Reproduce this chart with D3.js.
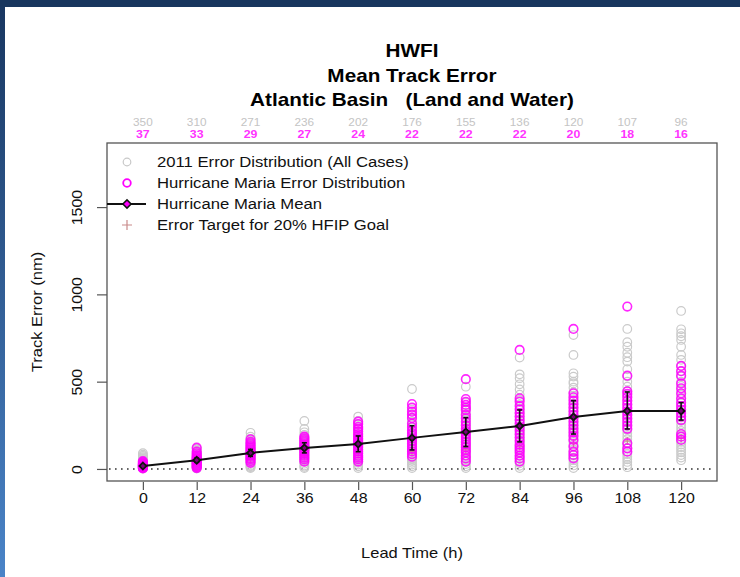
<!DOCTYPE html>
<html>
<head>
<meta charset="utf-8">
<script src="https://cdn.jsdelivr.net/npm/d3@7"></script>
<style>
  body { margin: 0; background: #fff; }
  svg { display: block; font-family: "Liberation Sans", Arial, sans-serif; }
</style>
</head>
<body>
<div id="chart"></div>
<script>
// lead times and counts
const leadTimes = [0, 12, 24, 36, 48, 60, 72, 84, 96, 108, 120];
const countAll = [350, 310, 271, 236, 202, 176, 155, 136, 120, 107, 96];
const countMaria = [37, 33, 29, 27, 24, 22, 22, 22, 20, 18, 16];

// 2011 error distribution (all cases), nm
const grey0 = [2, 5, 8, 10, 12, 15, 18, 20, 22, 25, 28, 30, 33, 36, 40, 44, 48, 52, 57, 62, 68, 75, 82, 90];
const grey12 = [3, 8, 12, 16, 20, 24, 28, 32, 36, 40, 44, 48, 52, 56, 60, 65, 70, 75, 80, 86, 92, 98, 105, 112, 118];
const grey24 = [5, 10, 15, 20, 28, 35, 42, 50, 58, 66, 74, 82, 90, 98, 106, 114, 122, 130, 140, 150, 160, 172, 185, 207];
const grey36 = [5, 12, 20, 30, 40, 50, 60, 70, 80, 90, 100, 110, 120, 130, 140, 150, 160, 170, 182, 195, 210, 229, 275];
const grey48 = [5, 15, 25, 35, 45, 55, 65, 75, 85, 95, 105, 115, 125, 135, 145, 155, 165, 175, 185, 198, 212, 229, 245, 257, 275, 300];
const grey60 = [5, 15, 25, 35, 45, 55, 65, 75, 85, 95, 105, 115, 125, 135, 145, 158, 170, 182, 195, 208, 222, 238, 255, 272, 290, 315, 340, 458];
const grey72 = [5, 15, 28, 40, 52, 65, 78, 90, 102, 115, 128, 140, 152, 165, 178, 190, 204, 218, 232, 248, 265, 282, 300, 322, 345, 380, 471];
const grey84 = [5, 18, 32, 45, 60, 75, 90, 105, 120, 135, 150, 165, 180, 196, 212, 228, 245, 262, 280, 300, 320, 345, 370, 395, 425, 455, 485, 520, 542, 638];
const grey96 = [5, 20, 35, 50, 65, 80, 95, 110, 125, 140, 155, 170, 186, 202, 218, 235, 252, 270, 290, 310, 330, 352, 375, 400, 420, 440, 465, 490, 500, 529, 548, 653, 767];
const grey108 = [10, 23, 40, 55, 70, 85, 100, 118, 135, 152, 170, 188, 206, 225, 245, 265, 285, 305, 325, 345, 368, 392, 418, 445, 471, 500, 530, 571, 615, 640, 666, 700, 726, 802];
const grey120 = [50, 65, 80, 95, 110, 125, 140, 155, 170, 185, 200, 218, 236, 255, 275, 295, 315, 335, 355, 378, 400, 425, 450, 475, 500, 530, 560, 590, 625, 653, 700, 739, 760, 777, 800, 905];

// Hurricane Maria error distribution, nm
const mag0 = [3, 6, 9, 11, 13, 15, 17, 19, 21, 23, 25, 28, 31, 35, 40, 45];
const mag12 = [5, 10, 15, 20, 25, 30, 35, 40, 45, 50, 55, 60, 65, 72, 80, 90, 100, 122];
const mag24 = [35, 45, 55, 62, 70, 78, 85, 92, 100, 108, 116, 125, 135, 145, 155, 170];
const mag36 = [42, 55, 65, 75, 85, 95, 105, 112, 120, 128, 136, 145, 155, 165, 175, 185];
const mag48 = [42, 55, 65, 75, 88, 100, 112, 125, 135, 145, 155, 165, 175, 188, 200, 215, 229, 240, 257, 271];
const mag60 = [70, 85, 100, 115, 130, 145, 160, 175, 190, 205, 220, 240, 260, 292, 310, 328, 351, 372];
const mag72 = [42, 60, 76, 95, 109, 125, 140, 155, 170, 185, 200, 215, 230, 250, 270, 290, 310, 338, 352, 367, 385, 400, 514];
const mag84 = [42, 60, 76, 95, 110, 125, 139, 160, 180, 200, 220, 240, 260, 280, 300, 320, 340, 360, 386, 405, 682];
const mag96 = [61, 80, 99, 130, 166, 190, 210, 230, 250, 270, 290, 310, 330, 350, 370, 390, 410, 433, 802];
const mag108 = [99, 118, 147, 230, 250, 270, 290, 310, 330, 350, 370, 390, 410, 430, 445, 534, 930];
const mag120 = [166, 185, 200, 280, 300, 320, 340, 360, 380, 405, 433, 462, 490, 534, 560, 590];

// Maria mean and error bars
const meanErr = [17, 50, 92, 120, 143, 178, 212, 246, 298, 332, 332];
const errLow = [12, 38, 72, 92, 99, 109, 128, 155, 200, 229, 280];
const errHigh = [22, 62, 112, 150, 189, 248, 294, 338, 391, 441, 380];

// 20% HFIP goal target
const target = [10, 35, 55, 75, 95, 100, 110, 130, 147, 160, 176];

const yTicks = [0, 500, 1000, 1500];
const legendLabels = [
    "2011 Error Distribution (All Cases)",
    "Hurricane Maria Error Distribution",
    "Hurricane Maria Mean",
    "Error Target for 20% HFIP Goal"
];

const greyDist = [grey0, grey12, grey24, grey36, grey48, grey60, grey72, grey84, grey96, grey108, grey120];
const magDist = [mag0, mag12, mag24, mag36, mag48, mag60, mag72, mag84, mag96, mag108, mag120];

const width = 740, height = 577;
const box = { left: 107, right: 717, top: 143, bottom: 481 };

// the original text is set a little wider than Liberation Sans
function stretch(sel, k = 1.1) {
    sel.each(function() {
        const len = this.getComputedTextLength();
        d3.select(this)
            .attr("textLength", len * k)
            .attr("lengthAdjust", "spacingAndGlyphs");
    });
}

const svg = d3.select("#chart").append("svg")
    .attr("width", width)
    .attr("height", height);

// slide frame
const defs = svg.append("defs");
const grad = defs.append("linearGradient")
    .attr("id", "sideGrad")
    .attr("x1", 0).attr("y1", 0).attr("x2", 0).attr("y2", 1);
grad.append("stop").attr("offset", "0%").attr("stop-color", "#183660");
grad.append("stop").attr("offset", "100%").attr("stop-color", "#4a84c8");

svg.append("rect").attr("x", 0).attr("y", 0).attr("width", 5).attr("height", height).attr("fill", "url(#sideGrad)");
svg.append("rect").attr("x", 0).attr("y", 0).attr("width", width).attr("height", 7).attr("fill", "#18365e");

// scales
const x = d3.scaleLinear().domain([-8, 128]).range([box.left, box.right]);
const y = d3.scaleLinear().domain([-69, 1867]).range([box.bottom, box.top]);

// title
const titles = ["HWFI", "Mean Track Error", "Atlantic Basin   (Land and Water)"];
svg.append("g").selectAll("text")
    .data(titles)
    .join("text")
    .attr("x", (box.left + box.right) / 2)
    .attr("y", (d, i) => 57 + i * 24.5)
    .attr("text-anchor", "middle")
    .style("font-size", "19px")
    .style("font-weight", "bold")
    .style("white-space", "pre")
    .text(d => d)
    .call(stretch, 1.09);

// counts above box
svg.append("g").selectAll("text")
    .data(countAll)
    .join("text")
    .attr("x", (d, i) => x(leadTimes[i]))
    .attr("y", 126)
    .attr("text-anchor", "middle")
    .style("font-size", "10.5px")
    .style("fill", "#c4c4c4")
    .text(d => d)
    .call(stretch, 1.12);

svg.append("g").selectAll("text")
    .data(countMaria)
    .join("text")
    .attr("x", (d, i) => x(leadTimes[i]))
    .attr("y", 138)
    .attr("text-anchor", "middle")
    .style("font-size", "11px")
    .style("font-weight", "bold")
    .style("fill", "#ff33ff")
    .text(d => d)
    .call(stretch, 1.12);

// zero line
svg.append("line")
    .attr("x1", box.left + 2).attr("x2", box.right - 2)
    .attr("y1", y(0)).attr("y2", y(0))
    .attr("stroke", "#333")
    .attr("stroke-width", 1.6)
    .attr("stroke-dasharray", "1.6,4.4");

// distributions
const plot = svg.append("g");

greyDist.forEach((vals, i) => {
    plot.append("g").selectAll("circle")
        .data(vals)
        .join("circle")
        .attr("cx", x(leadTimes[i]))
        .attr("cy", d => y(d))
        .attr("r", 4.3)
        .attr("fill", "none")
        .attr("stroke", "#cacaca")
        .attr("stroke-width", 1.2);
});

// target plus signs
plot.append("g").selectAll("path")
    .data(target)
    .join("path")
    .attr("d", (d, i) => {
        const cx = x(leadTimes[i]), cy = y(d);
        return `M${cx - 4},${cy}H${cx + 4}M${cx},${cy - 4}V${cy + 4}`;
    })
    .attr("stroke", "#c98a8a")
    .attr("stroke-width", 1.2);

magDist.forEach((vals, i) => {
    plot.append("g").selectAll("circle")
        .data(vals)
        .join("circle")
        .attr("cx", x(leadTimes[i]))
        .attr("cy", d => y(d))
        .attr("r", 4.3)
        .attr("fill", "none")
        .attr("stroke", "#ff00ff")
        .attr("stroke-opacity", 0.85)
        .attr("stroke-width", 1.6);
});

// error bars
const bars = plot.append("g").attr("stroke", "#111").attr("stroke-width", 1.6);
leadTimes.forEach((t, i) => {
    const cx = x(t);
    bars.append("line").attr("x1", cx).attr("x2", cx).attr("y1", y(errLow[i])).attr("y2", y(errHigh[i]));
    bars.append("line").attr("x1", cx - 2.5).attr("x2", cx + 2.5).attr("y1", y(errLow[i])).attr("y2", y(errLow[i]));
    bars.append("line").attr("x1", cx - 2.5).attr("x2", cx + 2.5).attr("y1", y(errHigh[i])).attr("y2", y(errHigh[i]));
});

// mean line
const line = d3.line().x((d, i) => x(leadTimes[i])).y(d => y(d));
plot.append("path")
    .datum(meanErr)
    .attr("d", line)
    .attr("fill", "none")
    .attr("stroke", "#111")
    .attr("stroke-width", 2);

plot.append("g").selectAll("path")
    .data(meanErr)
    .join("path")
    .attr("transform", (d, i) => `translate(${x(leadTimes[i])},${y(d)}) rotate(45)`)
    .attr("d", d3.symbol().type(d3.symbolSquare).size(24))
    .attr("fill", "#7a007a")
    .attr("stroke", "#111")
    .attr("stroke-width", 1.8);

// box
svg.append("rect")
    .attr("x", box.left).attr("y", box.top)
    .attr("width", box.right - box.left).attr("height", box.bottom - box.top)
    .attr("fill", "none")
    .attr("stroke", "#555")
    .attr("stroke-width", 1.3);

// x axis
const xAxis = svg.append("g")
    .attr("transform", `translate(0,${box.bottom + 1})`)
    .call(d3.axisBottom(x).tickValues(leadTimes).tickSize(8).tickPadding(3));
xAxis.select(".domain").remove();
xAxis.selectAll("line").attr("stroke", "#555").attr("stroke-width", 1.2);
xAxis.selectAll("text").style("font-size", "14.5px").attr("fill", "#111")
    .attr("font-family", "Liberation Sans, Arial, sans-serif")
    .call(stretch);

// y axis
const yAxis = svg.append("g")
    .attr("transform", `translate(${box.left},0)`)
    .call(d3.axisLeft(y).tickValues(yTicks).tickSize(10).tickFormat(d3.format("d")));
yAxis.select(".domain").remove();
yAxis.selectAll("line").attr("stroke", "#555").attr("stroke-width", 1.2);
yAxis.selectAll("text")
    .attr("x", null).attr("dy", null)
    .attr("text-anchor", "middle")
    .attr("transform", "translate(-30,0) rotate(-90)")
    .attr("dy", "0.35em")
    .style("font-size", "14.5px").attr("fill", "#111")
    .attr("font-family", "Liberation Sans, Arial, sans-serif")
    .call(stretch);

// axis labels
svg.append("text")
    .attr("x", (box.left + box.right) / 2)
    .attr("y", 558)
    .attr("text-anchor", "middle")
    .style("font-size", "15px")
    .style("fill", "#111")
    .text("Lead Time (h)")
    .call(stretch);

svg.append("text")
    .attr("transform", `translate(42,${(box.top + box.bottom) / 2}) rotate(-90)`)
    .attr("text-anchor", "middle")
    .style("font-size", "15px")
    .style("fill", "#111")
    .text("Track Error (nm)")
    .call(stretch);

// legend
const legend = svg.append("g");
const rowY = d3.scalePoint().domain(d3.range(legendLabels.length)).range([162, 225]);
legend.selectAll("text")
    .data(legendLabels)
    .join("text")
    .attr("x", 157)
    .attr("y", (d, i) => rowY(i))
    .attr("dy", "0.35em")
    .style("font-size", "15.3px")
    .style("fill", "#111")
    .text(d => d)
    .call(stretch, 1.09);

legend.append("circle").attr("cx", 127).attr("cy", rowY(0)).attr("r", 3.8)
    .attr("fill", "none").attr("stroke", "#c8c8c8").attr("stroke-width", 1.2);
legend.append("circle").attr("cx", 127).attr("cy", rowY(1)).attr("r", 3.8)
    .attr("fill", "none").attr("stroke", "#ff00ff").attr("stroke-width", 1.8);
legend.append("line").attr("x1", box.left).attr("x2", 146).attr("y1", rowY(2)).attr("y2", rowY(2))
    .attr("stroke", "#111").attr("stroke-width", 1.8);
legend.append("path")
    .attr("transform", `translate(127,${rowY(2)}) rotate(45)`)
    .attr("d", d3.symbol().type(d3.symbolSquare).size(34))
    .attr("fill", "#ff00ff").attr("stroke", "#111").attr("stroke-width", 1.5);
legend.append("path")
    .attr("d", `M122,${rowY(3)}H132M127,${rowY(3) - 5}V${rowY(3) + 5}`)
    .attr("stroke", "#c98a8a").attr("stroke-width", 1.2);
</script>
</body>
</html>
